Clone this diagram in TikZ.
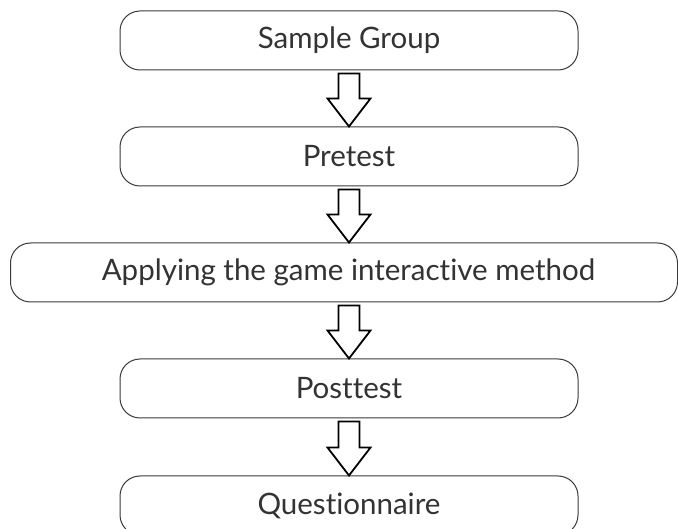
\documentclass[tikz,border=0pt]{standalone}
\usepackage{fontspec}
\newfontfamily\boxfont[Ligatures=NoCommon]{Lato}
\usetikzlibrary{calc}
\definecolor{boxline}{HTML}{3A3A3A}
\definecolor{txt}{HTML}{333333}
\tikzset{
  box/.style={draw=boxline, line width=1pt, rounded corners=20pt, fill=white,
    minimum height=59pt, inner sep=0pt, text=txt, font=\boxfont\fontsize{29.5}{35}\selectfont},
  arrowline/.style={draw=black, line width=1.8pt, fill=white, line join=miter}
}
\newcommand{\flowarrow}[2]{%
  \draw[arrowline] let \p0=(b1.center), \p1=(#1.south), \p2=(#2.north) in
    (\x0-10.5pt,\y1-3pt) -- (\x0-10.5pt,\y2+28pt) -- (\x0-21.5pt,\y2+28pt) --
    (\x0,\y2) -- (\x0+21.5pt,\y2+28pt) -- (\x0+10.5pt,\y2+28pt) --
    (\x0+10.5pt,\y1-3pt) -- cycle;}
\begin{document}
\begin{tikzpicture}[x=1pt,y=1pt]
\clip (0,0) rectangle (678,528);
\fill[white] (0,0) rectangle (678,528);
\node[box, minimum width=458pt] (b1) at (349,528-40.5) {Sample Group};
\node[box, minimum width=458pt] (b2) at (349,528-156.5) {Pretest};
\node[box, minimum width=667pt] (b3) at (344,528-272.5) {\hspace*{9pt}Applying the game interactive method};
\node[box, minimum width=458pt] (b4) at (349,528-388.5) {Posttest};
\node[box, minimum width=458pt] (b5) at (349,528-505.5) {Questionnaire};
\flowarrow{b1}{b2}
\flowarrow{b2}{b3}
\flowarrow{b3}{b4}
\flowarrow{b4}{b5}
\end{tikzpicture}
\end{document}
